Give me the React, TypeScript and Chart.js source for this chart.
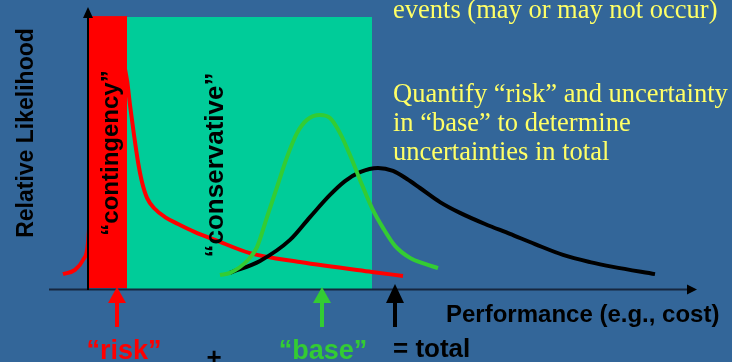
import React, { useEffect, useRef } from "react";
import { Chart, registerables } from "chart.js";

Chart.register(...registerables);

// Performance (x) and relative likelihood (y) in arbitrary units
const riskX = [-5, -2.6, -1, 0, 1.4, 3, 5.4, 7.8, 8.4, 9.2, 10, 10.8, 11.8, 13.4, 15.4, 18, 21.4, 25.4, 32.4, 42.4, 56.8, 63];
const riskY = [5.3, 6.7, 10, 15.7, 60, 85, 84, 70, 61.7, 51.7, 42.7, 36, 30.7, 27, 24.3, 22, 19.3, 16.7, 12.3, 9.3, 6, 4.7];

const baseX = [26.4, 28.4, 32, 33.8, 35.8, 37.8, 39.8, 41.8, 43.8, 46.4, 48.4, 50.4, 52.4, 54.4, 56.8, 59, 61.4, 64.4, 67.4, 70];
const baseY = [5, 5.7, 10, 14.3, 24.3, 34.3, 44.3, 52.3, 56.7, 58.3, 57.3, 52.3, 45, 36.7, 27.3, 20.7, 14.7, 10.7, 8.7, 7.3];

const totalX = [28.4, 34.4, 40.4, 44.4, 48.4, 51.4, 54.4, 58, 61, 63.8, 66.4, 70.4, 74.4, 79.4, 84.4, 89.4, 95, 100.4, 105, 113.4];
const totalY = [5.7, 9.7, 16.7, 24.3, 31.7, 36.3, 39.3, 40.7, 39.7, 37, 34, 29.3, 25.7, 22, 18.7, 15.3, 11.7, 9.3, 7.7, 5.3];

// Shaded bands: [start, end, height]
const contingencyBand = [0, 7.8, 91.3];
const conservativeBand = [7.8, 56.8, 91];

// Arrows under the axis (x positions)
const markerX = [5.8, 46.8, 61.4];

const bandLabels = ["\u201Ccontingency\u201D", "\u201Cconservative\u201D"];
const axisTitles = ["Relative Likelihood", "Performance (e.g., cost)"];
const bottomLabels = ["\u201Crisk\u201D", "+", "\u201Cbase\u201D", "= total"];
const noteLines = [
  "events (may or may not occur)",
  "Quantify \u201Crisk\u201D and uncertainty",
  "in \u201Cbase\u201D to determine",
  "uncertainties in total",
];

const BG = "#336699";
const RED = "#FF0000";
const TEAL = "#00CC99";
const GREEN = "#33CC33";
const BLACK = "#000000";
const YELLOW = "#FFFF66";
const SANS = '"Liberation Sans", Arial, sans-serif';
const SERIF = '"Liberation Serif", "Times New Roman", serif';

const zip = (xs: number[], ys: number[]) => xs.map((x, i) => ({ x, y: ys[i] }));

const diagramPlugin = {
  id: "diagram",
  beforeDraw(chart: any) {
    const { ctx, width, height } = chart;
    ctx.save();
    ctx.fillStyle = BG;
    ctx.fillRect(0, 0, width, height);
    ctx.restore();
  },
  beforeDatasetsDraw(chart: any) {
    const { ctx } = chart;
    const xs = chart.scales.x;
    const ys = chart.scales.y;
    const y0 = ys.getPixelForValue(0);
    ctx.save();
    {
      const [a, b, h] = conservativeBand;
      const l = xs.getPixelForValue(a);
      const r = xs.getPixelForValue(b);
      const t = ys.getPixelForValue(h);
      ctx.fillStyle = TEAL;
      ctx.fillRect(l, t, r - l, y0 - 1 - t);
    }
    {
      const [a, b, h] = contingencyBand;
      const l = xs.getPixelForValue(a) + 1;
      const r = xs.getPixelForValue(b);
      const t = ys.getPixelForValue(h);
      ctx.fillStyle = RED;
      ctx.fillRect(l, t, r - l, y0 - 2 - t);
    }
    ctx.restore();
  },
  afterDatasetsDraw(chart: any) {
    const { ctx, chartArea } = chart;
    const xs = chart.scales.x;
    const ys = chart.scales.y;
    const ax = xs.getPixelForValue(0);
    const ay = ys.getPixelForValue(0);
    ctx.save();

    // x axis
    ctx.strokeStyle = "#16263f";
    ctx.lineWidth = 2;
    ctx.beginPath();
    ctx.moveTo(chartArea.left + 1, ay - 0.5);
    ctx.lineTo(chartArea.right - 8, ay - 0.5);
    ctx.stroke();
    ctx.fillStyle = BLACK;
    ctx.beginPath();
    ctx.moveTo(chartArea.right - 1, ay - 0.5);
    ctx.lineTo(chartArea.right - 11, ay - 5.5);
    ctx.lineTo(chartArea.right - 11, ay + 4.5);
    ctx.closePath();
    ctx.fill();

    // y axis
    ctx.strokeStyle = BLACK;
    ctx.lineWidth = 2;
    ctx.beginPath();
    ctx.moveTo(ax, ay);
    ctx.lineTo(ax, chartArea.top + 9);
    ctx.stroke();
    ctx.beginPath();
    ctx.moveTo(ax, chartArea.top - 1);
    ctx.lineTo(ax - 5, chartArea.top + 10);
    ctx.lineTo(ax + 5, chartArea.top + 10);
    ctx.closePath();
    ctx.fill();

    // marker arrows
    const arrowColors = [RED, GREEN, BLACK];
    markerX.forEach((mx, i) => {
      const px = xs.getPixelForValue(mx);
      const tip = ay - (i === 2 ? 6 : 3);
      ctx.fillStyle = arrowColors[i];
      ctx.strokeStyle = arrowColors[i];
      ctx.beginPath();
      ctx.moveTo(px, tip);
      ctx.lineTo(px - 9, ay + 13);
      ctx.lineTo(px + 9, ay + 13);
      ctx.closePath();
      ctx.fill();
      ctx.lineWidth = 4;
      ctx.beginPath();
      ctx.moveTo(px, ay + 10);
      ctx.lineTo(px, ay + 37);
      ctx.stroke();
    });

    // rotated labels
    const rot = (text: string, x: number, y: number, size: number) => {
      ctx.save();
      ctx.translate(x, y);
      ctx.rotate(-Math.PI / 2);
      ctx.font = `bold ${size}px ${SANS}`;
      ctx.fillStyle = BLACK;
      ctx.textAlign = "center";
      ctx.textBaseline = "alphabetic";
      ctx.fillText(text, 0, 0);
      ctx.restore();
    };
    rot(axisTitles[0], 33, 133, 23);
    rot(bandLabels[0], 118, 153, 24);
    rot(bandLabels[1], 223, 165, 26);

    // bottom labels
    ctx.textBaseline = "alphabetic";
    ctx.textAlign = "center";
    ctx.font = `bold 27px ${SANS}`;
    ctx.fillStyle = RED;
    ctx.fillText(bottomLabels[0], 124, 359);
    ctx.fillStyle = BLACK;
    ctx.font = `bold 26px ${SANS}`;
    ctx.fillText(bottomLabels[1], 214, 366);
    ctx.font = `bold 27px ${SANS}`;
    ctx.fillStyle = GREEN;
    ctx.fillText(bottomLabels[2], 323, 359);
    ctx.textAlign = "left";
    ctx.fillStyle = BLACK;
    ctx.font = `bold 26px ${SANS}`;
    ctx.fillText(bottomLabels[3], 393, 357);
    ctx.font = `bold 24px ${SANS}`;
    ctx.fillText(axisTitles[1], 446, 322);

    // notes
    ctx.font = `26.5px ${SERIF}`;
    ctx.fillStyle = YELLOW;
    const baselines = [18, 102, 131, 160];
    noteLines.forEach((line, i) => ctx.fillText(line, 393, baselines[i]));

    ctx.restore();
  },
};

export default function App() {
  const ref = useRef<HTMLCanvasElement>(null);
  useEffect(() => {
    document.body.style.margin = "0";
    document.body.style.background = BG;
    const chart = new Chart(ref.current as HTMLCanvasElement, {
      type: "scatter",
      data: {
        datasets: [
          {
            label: "base",
            data: zip(baseX, baseY),
            showLine: true,
            borderColor: GREEN,
            borderWidth: 4,
            pointRadius: 0,
            cubicInterpolationMode: "monotone",
          },
          {
            label: "total",
            data: zip(totalX, totalY),
            showLine: true,
            borderColor: BLACK,
            borderWidth: 4,
            pointRadius: 0,
            cubicInterpolationMode: "monotone",
          },
          {
            label: "risk",
            data: zip(riskX, riskY),
            showLine: true,
            borderColor: RED,
            borderWidth: 4,
            pointRadius: 0,
            cubicInterpolationMode: "monotone",
          },
        ],
      },
      options: {
        animation: false,
        responsive: false,
        devicePixelRatio: 1,
        layout: { padding: { left: 48, right: 34, top: 8, bottom: 72 } },
        plugins: { legend: { display: false }, tooltip: { enabled: false } },
        scales: {
          x: { type: "linear", min: -8, max: 122, display: false },
          y: { type: "linear", min: 0, max: 94, display: false },
        },
      },
      plugins: [diagramPlugin],
    } as any);
    return () => chart.destroy();
  }, []);
  return (
    <div style={{ position: "fixed", left: 0, top: 0, width: 732, height: 362, background: BG }}>
      <canvas ref={ref} width={732} height={362} />
    </div>
  );
}
